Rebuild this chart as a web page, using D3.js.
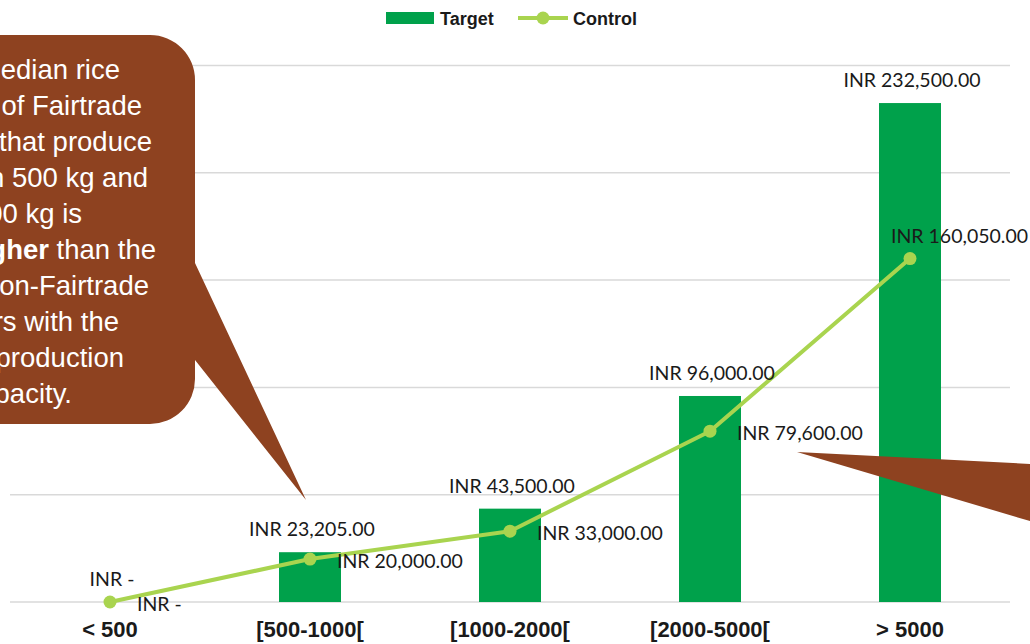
<!DOCTYPE html>
<html>
<head>
<meta charset="utf-8">
<script src="https://cdn.jsdelivr.net/npm/d3@7"></script>
<style>
  html, body { margin: 0; padding: 0; background: #ffffff; }
  svg { display: block; }
</style>
</head>
<body>
<svg id="chart" width="1030" height="644"></svg>
<script>
// Income bands (kg of rice produced) and median income per group
const categories = ["< 500", "[500-1000[", "[1000-2000[", "[2000-5000[", "> 5000"];
const targetValues = [0, 23205, 43500, 96000, 232500];
const controlValues = [0, 20000, 33000, 79600, 160050];
const yTicks = [0, 50000, 100000, 150000, 200000, 250000];
const seriesNames = ["Target", "Control"];
const calloutLines = [
  ["The median rice"],
  ["income of Fairtrade"],
  ["farmers that produce"],
  ["between 500 kg and"],
  ["1000 kg is"],
  ["16% higher", " than the"],
  ["non-Fairtrade"],
  ["farmers with the"],
  ["same production"],
  ["capacity."]
];

const W = 1030, H = 644;
const plot = { left: 10, right: 1010, top: 65.5, bottom: 602 };
const svg = d3.select("#chart");

const x = d3.scaleBand().domain(categories).range([plot.left, plot.right]).paddingInner(0.69).paddingOuter(0.345);
const xc = d3.scaleBand().domain(categories).range([plot.left, plot.right]);
const y = d3.scaleLinear().domain([0, 250000]).range([plot.bottom, plot.top]);

const fmt = v => v === 0 ? "INR -" : "INR " + d3.format(",.2f")(v);
const GREEN = "#00A14B", LIME = "#A9D44F", BROWN = "#8E4220";
const labelFont = "Lato, 'Open Sans', sans-serif";
const labelSize = 19.5;

// Horizontal gridlines
svg.append("g").selectAll("line").data(yTicks).join("line")
  .attr("x1", plot.left).attr("x2", plot.right)
  .attr("y1", d => y(d)).attr("y2", d => y(d))
  .attr("stroke", "#D9D9D9").attr("stroke-width", 1.5);

// Target bars
svg.append("g").selectAll("rect").data(targetValues).join("rect")
  .attr("x", (d, i) => x(categories[i]))
  .attr("width", x.bandwidth())
  .attr("y", d => y(d))
  .attr("height", d => y(0) - y(d))
  .attr("fill", GREEN);

// Control line with markers
const cx = i => xc(categories[i]) + xc.bandwidth() / 2;
const line = d3.line().x((d, i) => cx(i)).y(d => y(d));
svg.append("path").datum(controlValues)
  .attr("d", line).attr("fill", "none")
  .attr("stroke", LIME).attr("stroke-width", 4).attr("stroke-linejoin", "round");
svg.append("g").selectAll("circle").data(controlValues).join("circle")
  .attr("cx", (d, i) => cx(i)).attr("cy", d => y(d)).attr("r", 6.5)
  .attr("fill", LIME);

// Target value labels above bars
svg.append("g").selectAll("text").data(targetValues).join("text")
  .attr("x", (d, i) => cx(i) + 2)
  .attr("y", d => y(d) - 16)
  .attr("text-anchor", "middle")
  .attr("font-family", labelFont).attr("font-size", labelSize).attr("fill", "#1a1a1a")
  .text(fmt);

// Control value labels to the right of each point
svg.append("g").selectAll("text").data(controlValues).join("text")
  .attr("x", (d, i) => i === 4 ? cx(i) - 19 : cx(i) + 27)
  .attr("y", (d, i) => i === 4 ? y(d) - 16 : y(d) + 9)
  .attr("font-family", labelFont).attr("font-size", labelSize).attr("fill", "#1a1a1a")
  .text(fmt);

// Category axis labels
svg.append("g").selectAll("text").data(categories).join("text")
  .attr("x", d => xc(d) + xc.bandwidth() / 2)
  .attr("y", 637)
  .attr("text-anchor", "middle")
  .attr("font-family", "'Liberation Sans', Arial, sans-serif")
  .attr("font-weight", "bold").attr("font-size", 22).attr("fill", "#1a1a1a")
  .text(d => d);

// Legend
const legend = svg.append("g").attr("font-family", "'Liberation Sans', Arial, sans-serif")
  .attr("font-weight", "bold").attr("font-size", 18).attr("fill", "#1a1a1a");
legend.append("rect").attr("x", 386).attr("y", 12).attr("width", 48).attr("height", 12).attr("fill", GREEN);
legend.append("text").attr("x", 440).attr("y", 25).text(seriesNames[0]);
legend.append("line").attr("x1", 518).attr("x2", 568).attr("y1", 18).attr("y2", 18)
  .attr("stroke", LIME).attr("stroke-width", 4);
legend.append("circle").attr("cx", 543).attr("cy", 18).attr("r", 6.5).attr("fill", LIME);
legend.append("text").attr("x", 573).attr("y", 25).text(seriesNames[1]);

// Speech-bubble callout on the left
const r = 45, L = -360, R = 195, T = 35, B = 424;
const bubble = d3.path();
bubble.moveTo(L, T);
bubble.lineTo(R - r, T);
bubble.arcTo(R, T, R, T + r, r);
bubble.lineTo(R, 263);
bubble.lineTo(306, 500);
bubble.lineTo(R, 360);
bubble.lineTo(R, B - r);
bubble.arcTo(R, B, R - r, B, r);
bubble.lineTo(L, B);
bubble.closePath();
svg.append("path").attr("d", bubble.toString()).attr("fill", BROWN);

// Callout text, each line ending where it sits inside the bubble
const lineEnds = [120, 142, 152, 148, 82, 156, 149, 119, 124, 72];
const calloutText = svg.append("g")
  .attr("font-family", "'Liberation Sans', Arial, sans-serif")
  .attr("font-size", 27.5).attr("fill", "#ffffff");
calloutLines.forEach((parts, i) => {
  const t = calloutText.append("text")
    .attr("x", lineEnds[i]).attr("y", 79 + i * 36)
    .attr("text-anchor", "end");
  parts.forEach((p, j) => {
    t.append("tspan").attr("font-weight", parts.length > 1 && j === 0 ? "bold" : "normal").text(p);
  });
});

// Pointer of a second callout entering from the right edge
const tail = d3.path();
tail.moveTo(797, 452);
tail.lineTo(1040, 464.5);
tail.lineTo(1040, 524);
tail.closePath();
svg.append("path").attr("d", tail.toString()).attr("fill", BROWN);
</script>
</body>
</html>
